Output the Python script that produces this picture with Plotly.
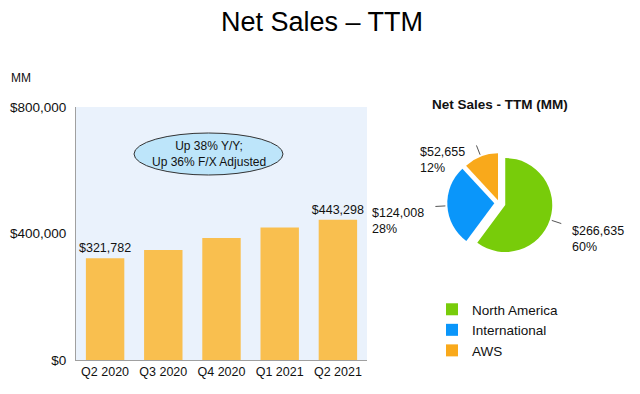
import math
import plotly.graph_objects as go

# ---- data ----
quarters = ["Q2 2020", "Q3 2020", "Q4 2020", "Q1 2021", "Q2 2021"]
net_sales_ttm = [321782, 347945, 386064, 419130, 443298]
y_tick_vals = [0, 400000, 800000]
y_tick_text = ["$0", "$400,000", "$800,000"]

segments = ["North America", "International", "AWS"]
segment_sales = [266635, 124008, 52655]
segment_pct = ["60%", "28%", "12%"]

# ---- style / geometry ----
FONT = "Liberation Sans, Arial, sans-serif"
W, H = 632, 386          # figure size (page body adds an 8px margin)
OFF = 8


def px(x):
    return (x - OFF) / W


def py(y):
    return 1 - (y - OFF) / H


PIE_CX, PIE_CY, PIE_R = 499, 203, 47
pulls = [0.14, 0.10, 0.06]
pie_colors = ["#78CC0A", "#0A96FA", "#F9A91B"]
half_box = PIE_R * (1 + max(pulls))

bar_text = [f"${v:,}" if i in (0, len(net_sales_ttm) - 1) else "" for i, v in enumerate(net_sales_ttm)]

fig = go.Figure()

fig.add_trace(go.Bar(
    x=quarters, y=net_sales_ttm,
    marker=dict(color="#F9BF4F", line=dict(width=0)),
    width=0.66,
    text=bar_text, textposition="outside", cliponaxis=False, constraintext="none",
    textfont=dict(size=12.5, color="#111111", family=FONT),
    showlegend=False, hoverinfo="x+y",
))

fig.add_trace(go.Pie(
    labels=segments, values=segment_sales,
    textinfo="none",
    marker=dict(colors=pie_colors, line=dict(width=0)),
    sort=False, direction="clockwise", rotation=0,
    pull=pulls,
    domain=dict(x=[px(PIE_CX - half_box), px(PIE_CX + half_box)],
                y=[py(PIE_CY + half_box), py(PIE_CY - half_box)]),
    showlegend=True,
))

# pie labels with leader lines, derived from slice angles
shapes = [dict(
    type="circle", xref="paper", yref="paper",
    x0=px(134), x1=px(283), y0=py(175), y1=py(133),
    fillcolor="#BDE5FA", line=dict(color="#333333", width=1),
)]
annotations = []
total = sum(segment_sales)
cum = 0
for v, p, pull in zip(segment_sales, segment_pct, pulls):
    mid = (cum + v / 2) / total * 2 * math.pi
    cum += v
    ux, uy = math.sin(mid), -math.cos(mid)
    r0 = PIE_R * (1 + pull) + 2
    r1 = r0 + 10
    sx, sy = PIE_CX + ux * r0, PIE_CY + uy * r0
    ex, ey = PIE_CX + ux * r1, PIE_CY + uy * r1
    shapes.append(dict(type="line", xref="paper", yref="paper",
                       x0=px(sx), y0=py(sy), x1=px(ex), y1=py(ey),
                       line=dict(color="#555555", width=1)))
    left = ux < 0
    annotations.append(dict(
        text=f"${v:,}<br>{p}", xref="paper", yref="paper",
        x=px(ex - 9 if left else ex + 9), y=py(ey - 2),
        xanchor="right" if left else "left", yanchor="top", align="left",
        showarrow=False, font=dict(size=12.5, color="#111111")))

annotations += [
    dict(text="Net Sales – TTM", x=px(322), y=py(22), xref="paper", yref="paper",
         xanchor="center", yanchor="middle", showarrow=False,
         font=dict(size=27, color="#000000")),
    dict(text="MM", x=px(9), y=py(78), xref="paper", yref="paper",
         xanchor="left", yanchor="middle", showarrow=False,
         font=dict(size=12, color="#111111")),
    dict(text="Up 38% Y/Y;<br>Up 36% F/X Adjusted", x=px(208.5), y=py(154),
         xref="paper", yref="paper", xanchor="center", yanchor="middle",
         showarrow=False, font=dict(size=12, color="#111111")),
    dict(text="<b>Net Sales - TTM (MM)</b>", x=px(500), y=py(104),
         xref="paper", yref="paper", xanchor="center", yanchor="middle",
         showarrow=False, font=dict(size=13.5, color="#111111")),
]

fig.update_layout(
    width=W, height=H,
    margin=dict(l=0, r=0, t=0, b=0),
    paper_bgcolor="white",
    plot_bgcolor="#EAF2FC",
    font=dict(family=FONT, color="#111111"),
    xaxis=dict(
        domain=[px(76), px(367)], range=[-0.5, 4.5],
        showgrid=False, showline=True, linecolor="#A0A0A0", linewidth=1,
        ticks="", tickfont=dict(size=12.5, color="#111111"), automargin=False,
    ),
    yaxis=dict(
        domain=[py(360), py(107)], range=[0, 800000],
        tickvals=y_tick_vals, ticktext=y_tick_text,
        showgrid=False, showline=True, linecolor="#A0A0A0", linewidth=1,
        ticks="", ticklabelstandoff=6,
        tickfont=dict(size=13.5, color="#111111"), automargin=False,
        zeroline=False,
    ),
    legend=dict(
        x=px(432), y=py(294), xanchor="left", yanchor="top",
        font=dict(size=13.5, color="#111111"), bgcolor="rgba(0,0,0,0)",
    ),
    shapes=shapes,
    annotations=annotations,
)

fig.write_html("out.html")
